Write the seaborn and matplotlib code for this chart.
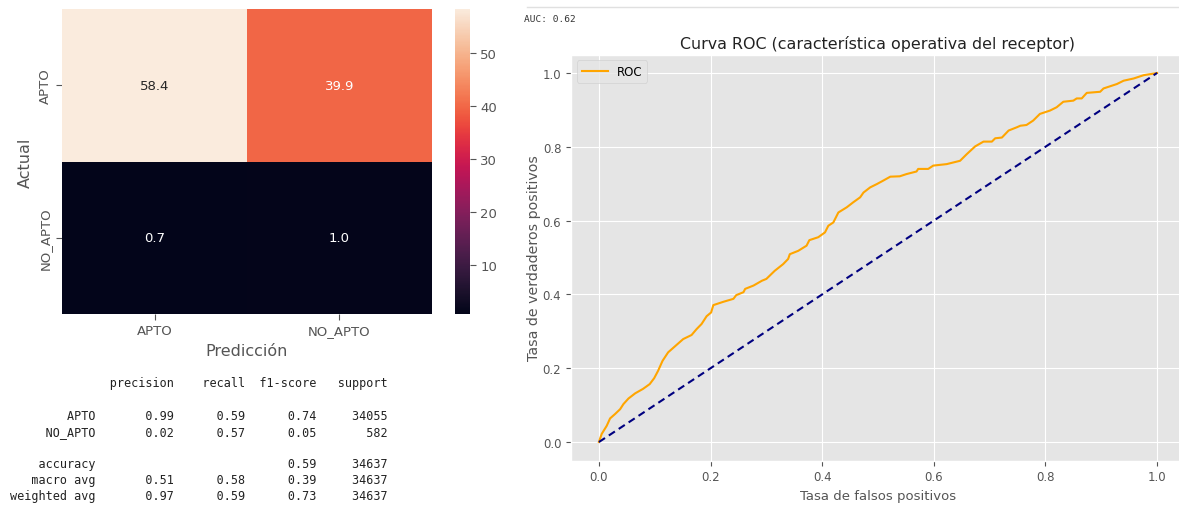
import numpy as np
import pandas as pd
import matplotlib
matplotlib.use("Agg")
import matplotlib.pyplot as plt
from matplotlib.lines import Line2D
import seaborn as sns

# ---------------- data ----------------
row_labels = ["APTO", "NO_APTO"]
col_labels = ["APTO", "NO_APTO"]
cm_row_apto = [58.4, 39.9]
cm_row_no_apto = [0.7, 1.0]

classes = ["APTO", "NO_APTO"]
precision = [0.99, 0.02]
recall = [0.59, 0.57]
f1_score = [0.74, 0.05]
support = [34055, 582]
accuracy = 0.59
total_support = 34637
macro_avg = [0.51, 0.58, 0.39]
weighted_avg = [0.97, 0.59, 0.73]

auc_value = 0.62

fpr = [0.0, 0.005, 0.014, 0.02, 0.029, 0.038, 0.044, 0.053, 0.065, 0.079, 0.091,
       0.099, 0.106, 0.114, 0.124, 0.136, 0.151, 0.166, 0.175, 0.184, 0.193,
       0.201, 0.205, 0.223, 0.241, 0.246, 0.259, 0.262, 0.277, 0.292, 0.300,
       0.315, 0.330, 0.339, 0.342, 0.357, 0.372, 0.377, 0.393, 0.405, 0.411,
       0.420, 0.429, 0.444, 0.456, 0.468, 0.474, 0.486, 0.498, 0.509, 0.522,
       0.539, 0.551, 0.569, 0.572, 0.590, 0.599, 0.623, 0.647, 0.659, 0.674,
       0.689, 0.704, 0.710, 0.722, 0.734, 0.749, 0.755, 0.766, 0.778, 0.790,
       0.808, 0.820, 0.832, 0.850, 0.856, 0.865, 0.874, 0.898, 0.904, 0.928,
       0.940, 0.958, 0.976, 0.997, 1.0]
tpr = [0.0, 0.022, 0.044, 0.064, 0.076, 0.089, 0.103, 0.118, 0.132, 0.144, 0.157,
       0.173, 0.193, 0.220, 0.243, 0.259, 0.279, 0.290, 0.306, 0.320, 0.341,
       0.351, 0.371, 0.380, 0.388, 0.398, 0.406, 0.415, 0.424, 0.437, 0.442,
       0.464, 0.482, 0.496, 0.509, 0.518, 0.532, 0.547, 0.555, 0.568, 0.586,
       0.595, 0.622, 0.636, 0.650, 0.663, 0.676, 0.690, 0.699, 0.708, 0.719,
       0.720, 0.726, 0.733, 0.740, 0.740, 0.749, 0.753, 0.762, 0.780, 0.801,
       0.814, 0.814, 0.823, 0.825, 0.844, 0.853, 0.857, 0.859, 0.871, 0.889,
       0.898, 0.907, 0.922, 0.925, 0.931, 0.931, 0.946, 0.949, 0.958, 0.970,
       0.979, 0.985, 0.994, 0.999, 1.0]
diag = [0.0, 1.0]

# ---------------- style ----------------
plt.style.use("ggplot")
plt.rcParams["font.family"] = ["DejaVu Sans"]

W, H = 1179, 506
fig = plt.figure(figsize=(W / 100, H / 100), dpi=100)

def rect(l, t, r, b):
    return [l / W, 1 - b / H, (r - l) / W, (b - t) / H]

# ---------------- heatmap ----------------
ax_h = fig.add_axes(rect(62, 10, 432, 315))
ax_c = fig.add_axes(rect(455, 10, 470, 315))
cm = pd.DataFrame([cm_row_apto, cm_row_no_apto], index=row_labels, columns=col_labels)
sns.heatmap(cm, annot=True, fmt=".1f", ax=ax_h, cbar_ax=ax_c,
            annot_kws={"size": 9.5})
ax_h.grid(False)
ax_h.set_xlabel("Predicción", fontsize=11.5, color="#555555")
ax_h.set_ylabel("Actual", fontsize=11.5, color="#555555")
ax_h.tick_params(axis="both", labelsize=9.5, colors="#555555", length=4)
for lab in ax_h.get_yticklabels():
    lab.set_rotation(90)
    lab.set_va("center")
ax_c.tick_params(labelsize=9.5, colors="#555555", length=4)
ax_c.grid(False)

# ---------------- classification report ----------------
lines = []
lines.append("{:>12s} ".format("") + " {:>9}" .format("precision") + " {:>9}".format("recall")
             + " {:>9}".format("f1-score") + " {:>9}".format("support"))
lines.append("")
for c, p, r, f, s in zip(classes, precision, recall, f1_score, support):
    lines.append("{:>12s} ".format(c) + " {:>9.2f} {:>9.2f} {:>9.2f} {:>9}".format(p, r, f, s))
lines.append("")
lines.append("{:>12s} ".format("accuracy") + " {:>9} {:>9} {:>9.2f} {:>9}".format("", "", accuracy, total_support))
lines.append("{:>12s} ".format("macro avg") + " {:>9.2f} {:>9.2f} {:>9.2f} {:>9}".format(*macro_avg, total_support))
lines.append("{:>12s} ".format("weighted avg") + " {:>9.2f} {:>9.2f} {:>9.2f} {:>9}".format(*weighted_avg, total_support))
y0, dy = 384, (497 - 384) / 7
for i, ln in enumerate(lines):
    if ln:
        fig.text(10 / W, 1 - (y0 + i * dy) / H, ln, family="DejaVu Sans Mono",
                 fontsize=8.5, color="#222222", ha="left", va="center")

# ---------------- ROC ----------------
ax_r = fig.add_axes(rect(571, 55.5, 1185, 461.5))
roc_df = pd.DataFrame({"fpr": fpr, "tpr": tpr})
sns.lineplot(data=roc_df, x="fpr", y="tpr", ax=ax_r, color="orange", lw=1.5,
             label="ROC", sort=False, estimator=None)
sns.lineplot(x=diag, y=diag, ax=ax_r, color="navy", lw=1.5, dashes=False)
ax_r.lines[-1].set_linestyle((0, (3.5, 2.2)))
ax_r.set_xlim(-0.05, 1.05)
ax_r.set_ylim(-0.05, 1.05)
ax_r.set_title("Curva ROC (característica operativa del receptor)", fontsize=11.4,
               color="#222222", pad=5)
ax_r.set_xlabel("Tasa de falsos positivos", fontsize=9.5, color="#555555")
ax_r.set_ylabel("Tasa de verdaderos positivos", fontsize=10.2, color="#555555", labelpad=1)
ax_r.tick_params(labelsize=8.5, colors="#555555")
ax_r.legend(loc="upper left", fontsize=8.5, handlelength=2.2)

# AUC text and separator
fig.text(524 / W, 1 - 19 / H, "AUC: {:.2f}".format(auc_value), family="DejaVu Sans Mono",
         fontsize=6.8, color="#333333", ha="left", va="center")
fig.add_artist(Line2D([527 / W, 1.0], [1 - 8 / H, 1 - 8 / H], color="#e0e0e0", lw=1,
                      transform=fig.transFigure))

fig.savefig("out.png", dpi=100)
